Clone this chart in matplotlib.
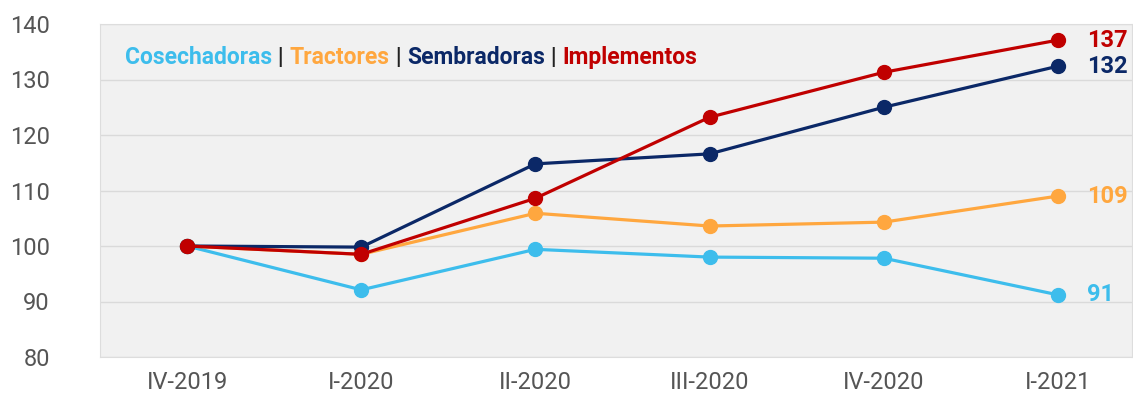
import matplotlib.pyplot as plt
import numpy as np

plt.rcParams['font.family'] = ['Roboto', 'DejaVu Sans']

quarters = ['IV-2019', 'I-2020', 'II-2020', 'III-2020', 'IV-2020', 'I-2021']
cosechadoras = [100, 92.1, 99.4, 98.0, 97.8, 91.2]
tractores = [100, 98.5, 105.9, 103.6, 104.3, 109.0]
sembradoras = [100, 99.8, 114.8, 116.6, 125.0, 132.4]
implementos = [100, 98.5, 108.6, 123.2, 131.3, 137.1]

series = [
    ('Cosechadoras', cosechadoras, '#3DBDEC'),
    ('Tractores', tractores, '#FFA73F'),
    ('Sembradoras', sembradoras, '#0B2867'),
    ('Implementos', implementos, '#C00000'),
]

fig = plt.figure(figsize=(11.33, 3.95), dpi=100)
ax = fig.add_axes([100 / 1133, 38 / 395, 1032 / 1133, 333 / 395])
ax.set_facecolor('#F1F1F1')

x = np.arange(len(quarters))
for name, vals, color in series:
    ax.plot(x, vals, color=color, lw=2.3, marker='o', ms=10, zorder=3)
    ax.annotate('{:.0f}'.format(vals[-1]), xy=(x[-1], vals[-1]), xytext=(21, 0),
                textcoords='offset points', va='center', ha='left',
                color=color, fontsize=17, fontweight='bold')

ax.set_xlim(-0.5, len(quarters) - 1 + 0.425)
ax.set_ylim(80, 140)
ax.set_yticks(range(80, 141, 10))
ax.set_xticks(x)
ax.set_xticklabels(quarters)
ax.tick_params(axis='both', length=0, labelsize=17, labelcolor='#555555')
ax.tick_params(axis='y', pad=36)
ax.tick_params(axis='x', pad=10)
ax.grid(axis='y', color='#DADADA', lw=1)
ax.set_axisbelow(True)
for sp in ax.spines.values():
    sp.set_color('#DDDDDD')
    sp.set_linewidth(0.8)

# legend as a run of coloured words split by pipes
parts = []
for i, (name, vals, color) in enumerate(series):
    if i:
        parts.append((' | ', '#222222'))
    parts.append((name, color))
prev = ax.text(25 / 1032, 0.898, parts[0][0], transform=ax.transAxes,
               color=parts[0][1], fontsize=16.5, fontweight='bold', va='center')
for txt, color in parts[1:]:
    prev = ax.annotate(txt, xy=(1, 0.5), xycoords=prev, va='center', ha='left',
                       color=color, fontsize=16.5, fontweight='bold')

fig.savefig('out.png', dpi=100)
